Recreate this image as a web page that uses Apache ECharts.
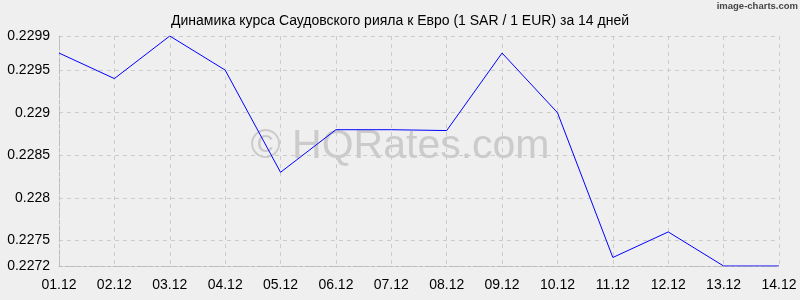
<!DOCTYPE html>
<html>
<head>
<meta charset="utf-8">
<script src="https://cdn.jsdelivr.net/npm/echarts@6/dist/echarts.min.js"></script>
<style>html,body{margin:0;padding:0;background:#efefef;}#c{width:800px;height:300px;}</style>
</head>
<body>
<div id="c"></div>
<script>
const categories = ['01.12','02.12','03.12','04.12','05.12','06.12','07.12','08.12','09.12','10.12','11.12','12.12','13.12','14.12'];
const rates = [0.2297, 0.2294, 0.2299, 0.2295, 0.2283, 0.2288, 0.2288, 0.22879, 0.2297, 0.2290, 0.2273, 0.2276, 0.2272, 0.2272];
const yTicks = [0.2272, 0.2275, 0.228, 0.2285, 0.229, 0.2295, 0.2299];
const titleText = 'Динамика курса Саудовского рияла к Евро (1 SAR / 1 EUR) за 14 дней';

const chart = echarts.init(document.getElementById('c'), null, {renderer: 'canvas'});
chart.setOption({
  backgroundColor: '#efefef',
  animation: false,
  title: {
    text: titleText,
    left: 'center',
    top: 9,
    textStyle: {fontFamily: 'Liberation Sans, Arial, sans-serif', fontSize: 14, fontWeight: 'normal', color: '#000'}
  },
  graphic: [
    {type: 'text', left: 'center', top: 126, z: 0, silent: true,
     style: {text: '© HQRates.com', font: '41px "Liberation Sans", Arial, sans-serif', fill: 'rgba(160,160,160,0.45)'}},
    {type: 'text', right: 2, top: 1, z: 0, silent: true,
     style: {text: 'image-charts.com', font: 'bold 9.5px "Liberation Sans", sans-serif', fill: '#444'}}
  ],
  grid: {left: 59, right: 21, top: 36, bottom: 34, containLabel: false},
  xAxis: {
    type: 'category',
    data: categories,
    boundaryGap: false,
    axisLine: {show: true, lineStyle: {color: '#bbb', type: 'dashed'}},
    axisTick: {show: false},
    axisLabel: {color: '#000', fontFamily: 'Liberation Sans, Arial, sans-serif', fontSize: 14, margin: 12},
    splitLine: {show: true, lineStyle: {color: '#ccc', type: [4, 4]}}
  },
  yAxis: {
    type: 'value',
    min: 0.2272,
    max: 0.2299,
    axisLine: {show: true, lineStyle: {color: '#bbb', type: 'dashed'}},
    axisTick: {show: false, customValues: yTicks},
    axisLabel: {color: '#000', fontFamily: 'Liberation Sans, Arial, sans-serif', fontSize: 14, margin: 9, customValues: yTicks,
      formatter: function (v) { return String(parseFloat(v.toFixed(4))); }},
    splitLine: {show: true, lineStyle: {color: '#ccc', type: [4, 4]}}
  },
  series: [{
    type: 'line',
    data: rates,
    symbol: 'none',
    z: 5,
    lineStyle: {color: '#0000ff', width: 1}
  }]
});
</script>
</body>
</html>
